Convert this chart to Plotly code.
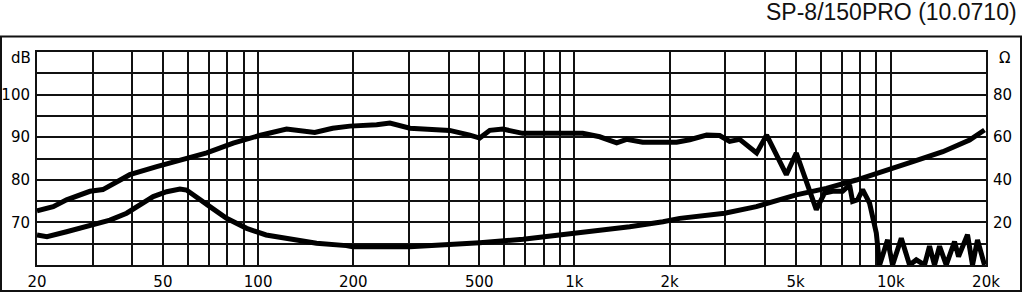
import plotly.graph_objects as go

# SPL curve (dB)
spl_freq = [20, 22.5, 24.8, 29.4, 32.3, 39.3, 47.8, 55.3, 68.8, 83.4, 101, 123, 135, 151, 172, 195,
            237, 261, 302, 403, 467, 502, 540, 594, 686, 1062, 1202, 1360, 1462, 1643, 2104, 2314,
            2618, 2878, 3094, 3329, 3766, 4051, 4675, 5026, 5816, 6177, 6546, 7043, 7410, 7574,
            7854, 8144, 8570, 9001, 9218, 9770, 10131, 10796, 11466, 12038, 12785, 13260, 13752,
            14262, 14975, 15906, 16376, 17482, 18131, 18800, 19785]
spl_db = [72.7, 73.7, 75.3, 77.3, 77.7, 81.2, 83.1, 84.3, 86.3, 88.6, 90.4, 91.9, 91.6, 91.1, 92.1, 92.6,
          92.9, 93.3, 92.1, 91.6, 90.5, 89.8, 91.6, 91.9, 90.9, 90.9, 90.1, 88.7, 89.5, 88.8, 88.8, 89.4,
          90.5, 90.4, 89.0, 89.5, 86.3, 90.5, 81.2, 86.3, 73.0, 76.9, 77.3, 77.3, 78.8, 74.9,
          75.3, 77.7, 74.5, 67.5, 60.0, 65.9, 60.0, 66.3, 60.0, 61.2, 60.0, 64.4, 60.0,
          64.4, 60.0, 65.5, 62.0, 67.1, 60.0, 65.9, 60.0]

# Impedance curve (Ohm)
imp_freq = [20, 21.5, 24.8, 30.1, 34.0, 38.4, 42.3, 46.6, 51.4, 56.6, 59.4, 63.9, 70.4, 79.5, 92,
            106, 129, 153, 190, 199, 302, 403, 502, 688, 918, 1174, 1495, 1905, 2152, 2984, 3758,
            5026, 6254, 7780, 9441, 11744, 14606, 17744, 19785]
imp_ohm = [14.1, 13.3, 15.6, 18.8, 21.1, 24.3, 28.2, 32.1, 34.4, 35.7, 35.2, 32.1, 27.4, 21.9, 17.2,
           14.1, 11.7, 10.2, 9.1, 8.6, 8.6, 9.4, 10.5, 12.1, 14.1, 16.0, 18.0, 20.3, 21.9, 24.3, 27.4,
           32.9, 36.0, 39.9, 43.8, 48.5, 53.2, 58.7, 63.4]

x_grid = [20, 30, 40, 50, 60, 70, 80, 90, 100, 200, 300, 400, 500, 600, 700, 800, 900, 1000,
          2000, 3000, 4000, 5000, 6000, 7000, 8000, 9000, 10000, 20000]
x_labels = {20: "20", 50: "50", 100: "100", 200: "200", 500: "500", 1000: "1k", 2000: "2k",
            5000: "5k", 10000: "10k", 20000: "20k"}
y_grid = [60, 65, 70, 75, 80, 85, 90, 95, 100, 105, 110]
y_labels = {70: "70", 80: "80", 90: "90", 100: "100"}
y2_ticks = [20, 40, 60, 80]

title_text = "SP-8/150PRO (10.0710)"

fig = go.Figure()
fig.add_trace(go.Scatter(x=spl_freq, y=spl_db, mode="lines",
                         line=dict(color="black", width=5), yaxis="y"))
fig.add_trace(go.Scatter(x=imp_freq, y=imp_ohm, mode="lines",
                         line=dict(color="black", width=5), yaxis="y2"))

tick_font = dict(family="DejaVu Sans", size=15, color="black")

L, R, T, B = 37, 38, 52, 28
W, H = 1024, 293
pw = W - L - R
ph = H - T - B

def px(x):
    return (x - L) / pw

def py(y):
    return (H - B - y) / ph

fig.update_layout(
    width=W, height=H,
    margin=dict(l=L, r=R, t=T, b=B, pad=0, autoexpand=False),
    paper_bgcolor="white", plot_bgcolor="white",
    showlegend=False,
    xaxis=dict(type="log", range=[1.30103, 4.30103], tickvals=x_grid,
               ticktext=[x_labels.get(v, "") for v in x_grid],
               showgrid=True, gridcolor="#111", gridwidth=2,
               showline=True, linecolor="#111", linewidth=2, mirror=True,
               ticks="", tickfont=tick_font, ticklabelstandoff=2, zeroline=False,
               automargin=False),
    yaxis=dict(range=[60, 110], tickvals=y_grid,
               ticktext=[y_labels.get(v, "") for v in y_grid],
               showgrid=True, gridcolor="#111", gridwidth=2,
               showline=True, linecolor="#111", linewidth=2, mirror=True,
               ticks="", tickfont=tick_font, ticklabelstandoff=2, zeroline=False,
               automargin=False),
    yaxis2=dict(range=[0, 100], overlaying="y", side="right", tickvals=y2_ticks,
                showgrid=False, ticks="", tickfont=tick_font, ticklabelstandoff=6,
                zeroline=False, showline=False, automargin=False),
    shapes=[dict(type="rect", xref="paper", yref="paper",
                 x0=px(1), x1=px(1021), y0=py(291), y1=py(36.5),
                 line=dict(color="#111", width=2), layer="below")],
    annotations=[
        dict(text=title_text, xref="paper", yref="paper", x=px(1019), y=py(12),
             xanchor="right", yanchor="middle", showarrow=False,
             font=dict(family="Liberation Sans", size=23, color="#111")),
        dict(text="dB", xref="paper", yref="paper", x=px(33), y=py(58),
             xanchor="right", yanchor="middle", showarrow=False, font=tick_font),
        dict(text="Ω", xref="paper", yref="paper", x=px(997), y=py(58),
             xanchor="left", yanchor="middle", showarrow=False, font=tick_font),
    ],
)

fig.write_html("out.html")
